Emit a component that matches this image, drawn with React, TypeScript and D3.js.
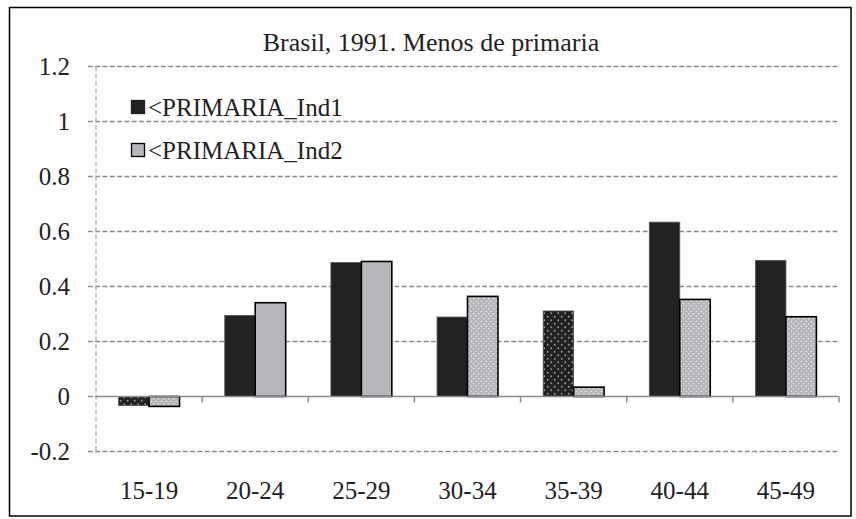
import React from "react";
import * as d3 from "d3";

const categories = ["15-19", "20-24", "25-29", "30-34", "35-39", "40-44", "45-49"];
const ind1Values = [-0.033, 0.295, 0.487, 0.289, 0.311, 0.634, 0.495];
const ind2Values = [-0.036, 0.341, 0.491, 0.364, 0.034, 0.353, 0.29];
const ind1Dotted = [true, false, false, false, true, false, false];
const ind2Dotted = [true, false, false, true, true, true, true];
const yTicks = [-0.2, 0, 0.2, 0.4, 0.6, 0.8, 1, 1.2];
const seriesNames = ["<PRIMARIA_Ind1", "<PRIMARIA_Ind2"];
const title = "Brasil, 1991. Menos de primaria";

const W = 856;
const H = 519;
const FONT = "'Liberation Serif', Tinos, 'Times New Roman', serif";
const BLACK = "#222224";
const GRAY = "#b4b6b9";

export default function App() {
  const left = 96;
  const right = 839;
  const top = 66.5;
  const bottom = 451.5;

  const x = d3.scaleBand<string>().domain(categories).range([left, right]).paddingInner(0).paddingOuter(0);
  const y = d3.scaleLinear().domain([-0.2, 1.2]).range([bottom, top]);
  const bw = x.bandwidth() * 0.287;
  const y0 = y(0);

  const fmt = (v: number) => (Math.abs(v) < 1e-9 ? "0" : String(+v.toFixed(1)));

  const txt = { fontFamily: FONT, fill: "#222" } as React.CSSProperties;

  return (
    <svg width={W} height={H} style={{ position: "absolute", left: 0, top: 0, background: "#fff" }}>
      <defs>
        <pattern id="dotBlack" width={7} height={7} patternUnits="userSpaceOnUse">
          <rect width={7} height={7} fill={BLACK} />
          <circle cx={1.75} cy={1.75} r={0.9} fill="#9a9a9a" />
          <circle cx={5.25} cy={5.25} r={0.9} fill="#9a9a9a" />
        </pattern>
        <pattern id="dotGray" width={5} height={5} patternUnits="userSpaceOnUse">
          <rect width={5} height={5} fill={GRAY} />
          <circle cx={1.25} cy={1.25} r={0.7} fill="#f2f2f2" />
          <circle cx={3.75} cy={3.75} r={0.7} fill="#f2f2f2" />
        </pattern>
      </defs>
      <rect x={9.5} y={7.5} width={841.5} height={508.5} fill="#fff" stroke="#000" strokeWidth={1.5} />
      <text x={431} y={51} textAnchor="middle" fontSize={26} style={txt}>
        {title}
      </text>

      {/* gridlines */}
      {yTicks.filter((t) => t !== 0).map((t) => (
        <line key={t} x1={88} x2={right} y1={y(t)} y2={y(t)} stroke="#8a8a8a" strokeWidth={1.3} strokeDasharray="4.7,2.6" />
      ))}
      <line x1={88} x2={left} y1={y0} y2={y0} stroke="#8a8a8a" strokeWidth={1.3} strokeDasharray="4.7,2.6" />
      {/* y axis */}
      <line x1={left} x2={left} y1={top} y2={bottom} stroke="#a8a8a8" strokeWidth={1.2} strokeDasharray="4.7,2.6" />
      {yTicks.map((t) => (
        <text key={t} x={70} y={y(t)} dy="0.35em" textAnchor="end" fontSize={25} style={txt}>
          {fmt(t)}
        </text>
      ))}

      {/* bars */}
      {categories.map((c, i) => {
        const cx = (x(c) as number) + x.bandwidth() / 2;
        const v1 = ind1Values[i];
        const v2 = ind2Values[i];
        return (
          <g key={c}>
            <rect
              x={cx - bw}
              y={Math.min(y(v1), y0)}
              width={bw}
              height={Math.abs(y(v1) - y0)}
              fill={ind1Dotted[i] ? "url(#dotBlack)" : BLACK}
              stroke="#555"
              strokeWidth={0.8}
            />
            <rect
              x={cx}
              y={Math.min(y(v2), y0)}
              width={bw}
              height={Math.abs(y(v2) - y0)}
              fill={ind2Dotted[i] ? "url(#dotGray)" : GRAY}
              stroke="#000"
              strokeWidth={1.6}
            />
          </g>
        );
      })}

      {/* zero axis */}
      <line x1={left} x2={right} y1={y0} y2={y0} stroke="#8c8c8c" strokeWidth={1.5} />
      {categories.map((c) => (
        <line key={c} x1={(x(c) as number) + x.bandwidth()} x2={(x(c) as number) + x.bandwidth()} y1={y0} y2={y0 + 6} stroke="#8c8c8c" strokeWidth={1.5} />
      ))}
      {categories.map((c) => (
        <text key={c} x={(x(c) as number) + x.bandwidth() / 2} y={499} textAnchor="middle" fontSize={25} style={txt}>
          {c}
        </text>
      ))}

      {/* legend */}
      {seriesNames.map((s, i) => {
        const ly = 107 + i * 43;
        return (
          <g key={s}>
            <rect x={131.5} y={ly - 6.5} width={13} height={13} fill={i === 0 ? BLACK : GRAY} stroke={i === 0 ? BLACK : "#000"} strokeWidth={1.3} />
            <text x={148} y={ly} dy="0.35em" fontSize={25} style={txt}>
              {s}
            </text>
          </g>
        );
      })}
    </svg>
  );
}
